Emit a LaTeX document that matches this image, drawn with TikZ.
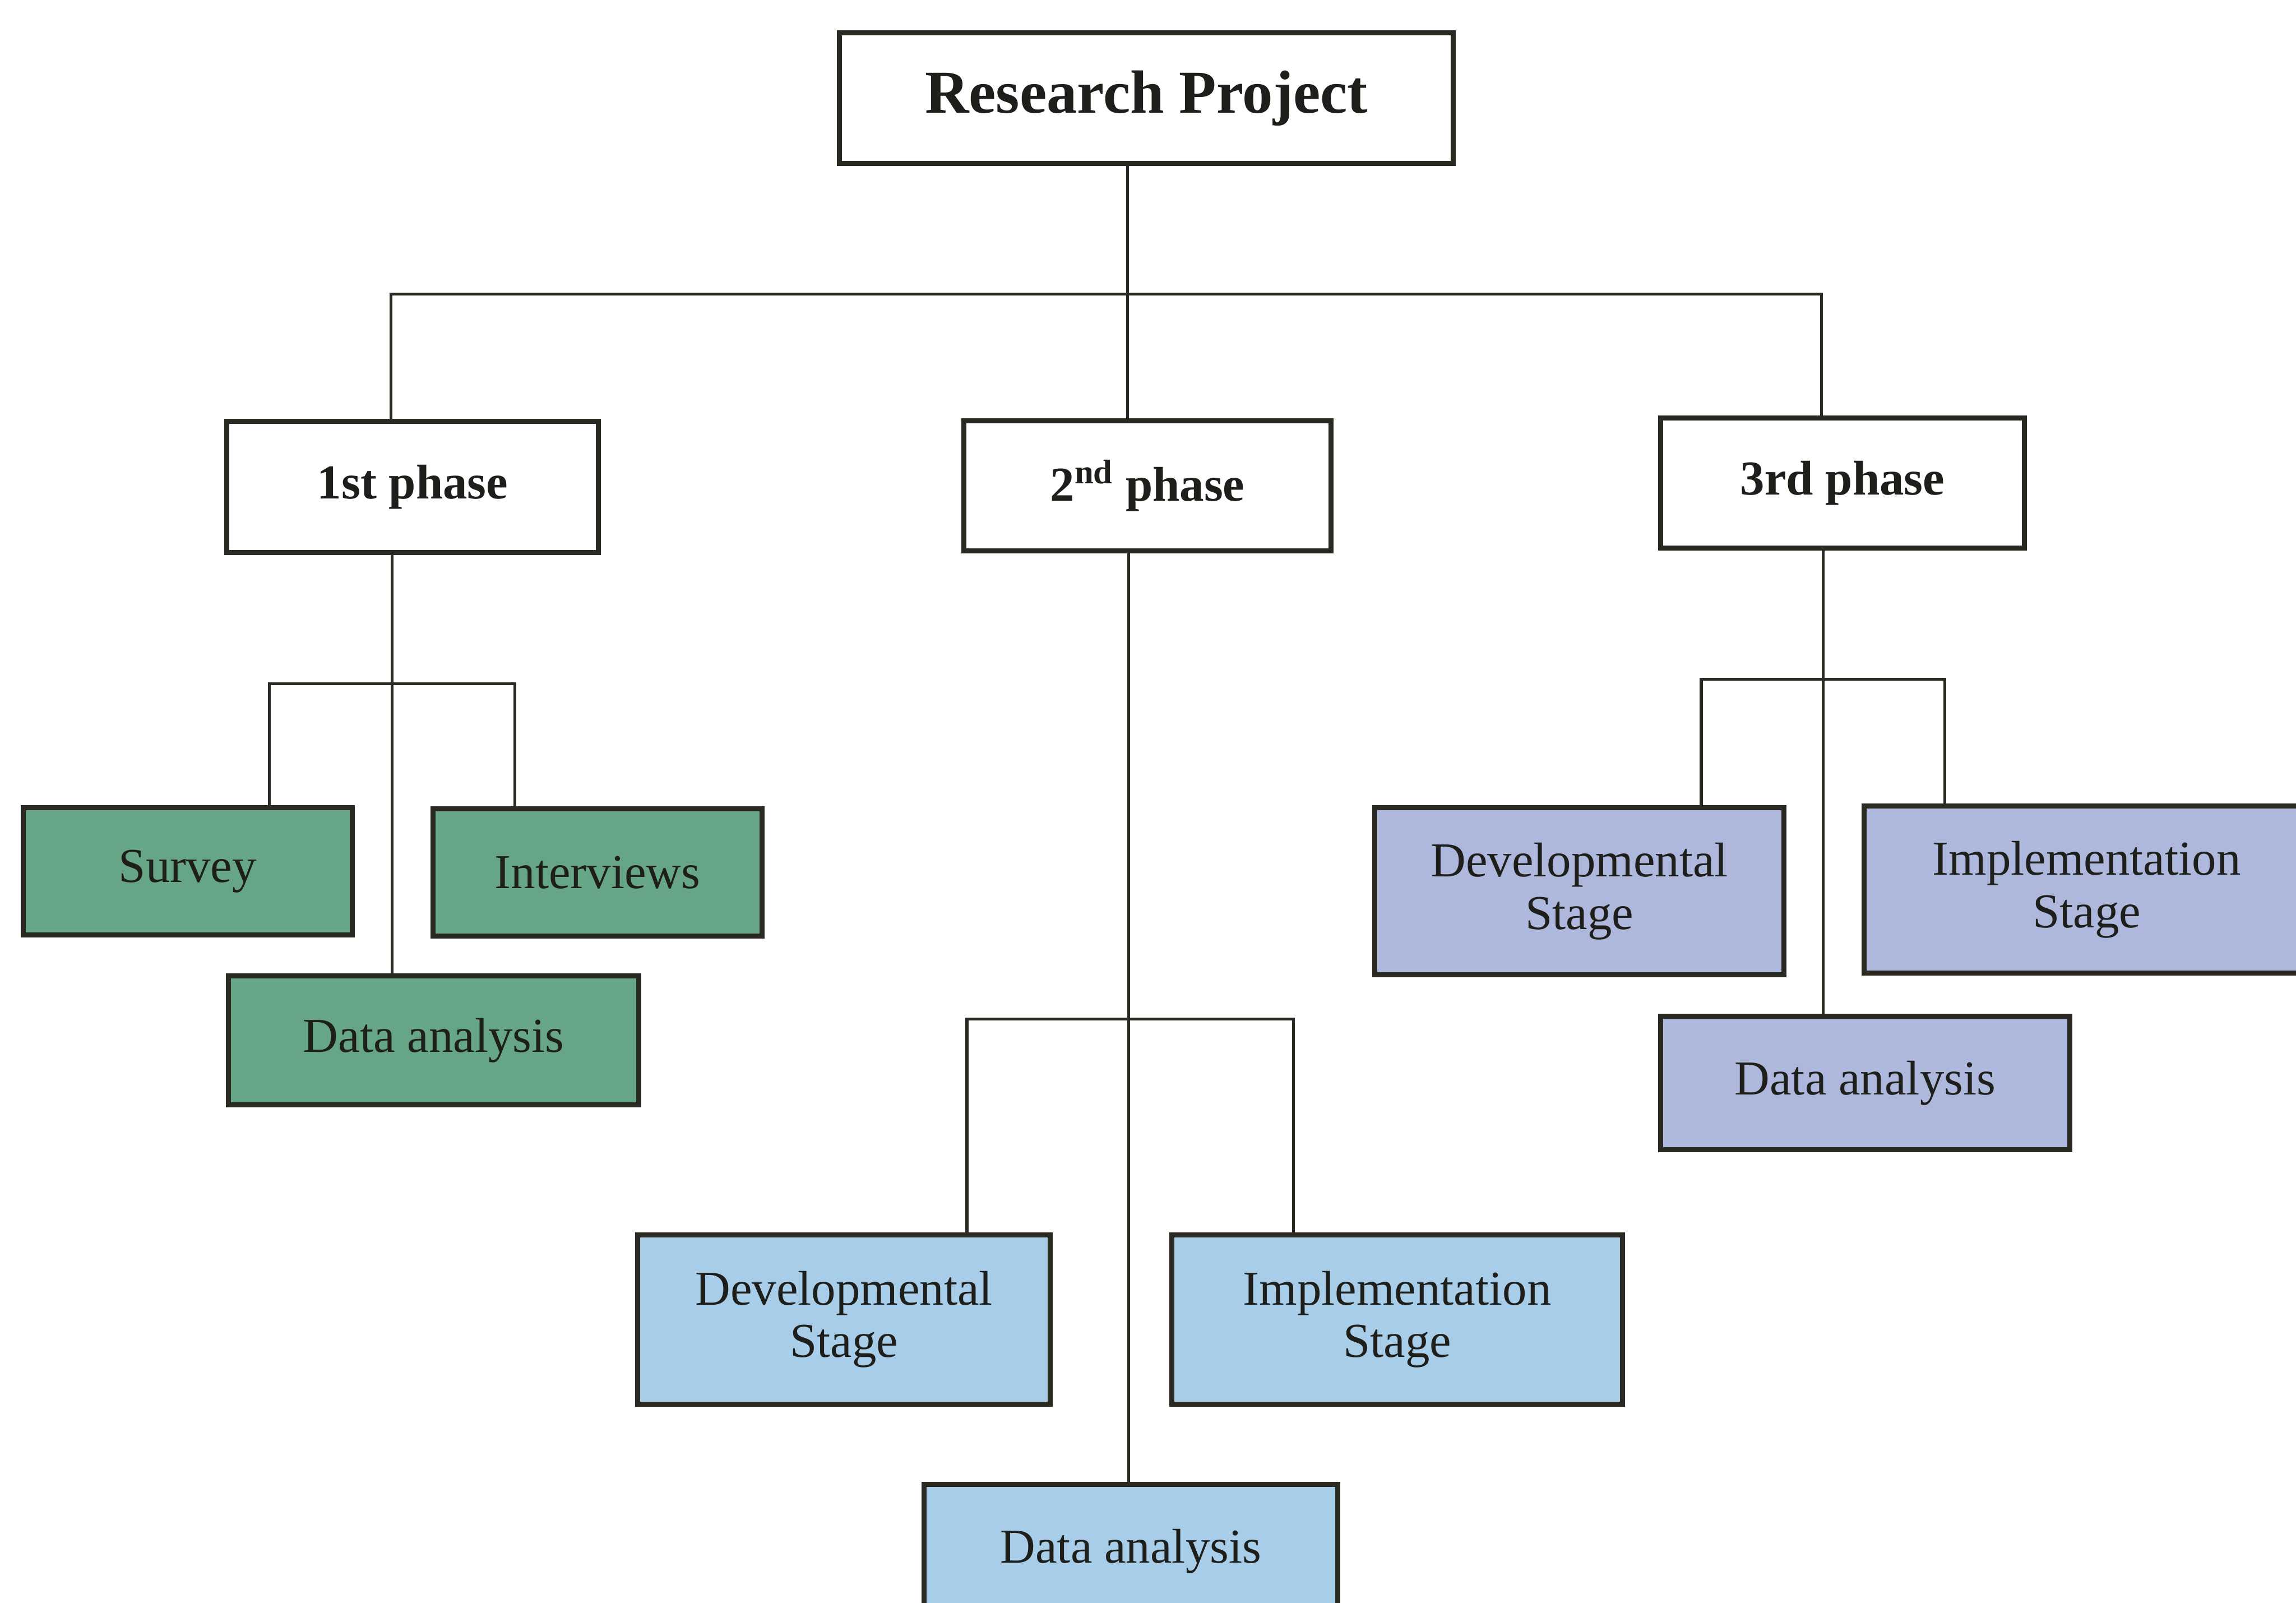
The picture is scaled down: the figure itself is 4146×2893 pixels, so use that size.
\documentclass[tikz,border=0pt]{standalone}
\usepackage{fontspec}
\setmainfont{Liberation Serif}
\usetikzlibrary{backgrounds}
\definecolor{ink}{HTML}{2A2922}
\definecolor{txt}{HTML}{1E1E1A}
\definecolor{greenfill}{HTML}{66A586}
\definecolor{bluefill}{HTML}{A8CDE8}
\definecolor{violetfill}{HTML}{AEB7DC}
\begin{document}
\begin{tikzpicture}[x=0.01cm,y=-0.01cm,
  box/.style={draw=ink, line width=2.6pt, rectangle, inner sep=0pt, align=center,
    text=txt, font=\fontsize{25}{27}\selectfont},
  titlebox/.style={box, fill=white, font=\fontsize{31.3}{34}\selectfont\bfseries},
  phasebox/.style={box, fill=white, font=\fontsize{25}{27}\selectfont\bfseries},
  greenbox/.style={box, fill=greenfill},
  bluebox/.style={box, fill=bluefill},
  violetbox/.style={box, fill=violetfill},
  wire/.style={draw=ink, line width=1.5pt}
]
\useasboundingbox (0,0) rectangle (4146,2893);
\clip (0,0) rectangle (4146,2893);

% top level
\node[titlebox, minimum width=11.08cm, minimum height=2.35cm] (rp) at (2070,177) {Research Project};

% phases
\node[phasebox, minimum width=6.70cm, minimum height=2.36cm] (p1) at (745,879) {1st phase};
\node[phasebox, minimum width=6.63cm, minimum height=2.35cm] (p2) at (2072,877) {2\textsuperscript{nd} phase};
\node[phasebox, minimum width=6.57cm, minimum height=2.35cm] (p3) at (3327,872) {3rd phase};

% first phase
\node[greenbox, minimum width=5.94cm, minimum height=2.30cm] (sv) at (339,1573) {Survey};
\node[greenbox, minimum width=5.94cm, minimum height=2.30cm] (iv) at (1079,1575) {Interviews};
\node[greenbox, minimum width=7.40cm, minimum height=2.33cm] (da1) at (783,1878) {Data analysis};

% second phase
\node[bluebox, minimum width=7.44cm, minimum height=3.05cm] (dv2) at (1524,2382) {Developmental\\Stage};
\node[bluebox, minimum width=8.14cm, minimum height=3.05cm] (im2) at (2523,2382) {Implementation\\Stage};
\node[bluebox, minimum width=7.46cm, minimum height=2.40cm] (da2) at (2042,2800) {Data analysis};

% third phase
\node[violetbox, minimum width=7.39cm, minimum height=3.02cm] (dv3) at (2852,1609) {Developmental\\Stage};
\node[violetbox, minimum width=8.03cm, minimum height=3.02cm] (im3) at (3768,1606) {Implementation\\Stage};
\node[violetbox, minimum width=7.38cm, minimum height=2.41cm] (da3) at (3368,1955) {Data analysis};

% junction points
\coordinate (busL) at (706,531);
\coordinate (busM) at (2036,531);
\coordinate (busR) at (3289,531);
\coordinate (j1) at (708,1234);
\coordinate (b1l) at (486,1234);
\coordinate (b1r) at (930,1234);
\coordinate (j2) at (2038,1840);
\coordinate (b2l) at (1746,1840);
\coordinate (b2r) at (2336,1840);
\coordinate (j3) at (3292,1226);
\coordinate (b3l) at (3072,1226);
\coordinate (b3r) at (3512,1226);

\begin{scope}[on background layer]
\fill[white] (0,0) rectangle (4146,2893);
% project to phases
\draw[wire] (rp.south -| busM) -- (p2.north -| busM);
\draw[wire] (p1.north -| busL) -- (busL) -- (busR) -- (p3.north -| busR);
% first phase branches
\draw[wire] (p1.south -| j1) -- (da1.north -| j1);
\draw[wire] (sv.north -| b1l) -- (b1l) -- (b1r) -- (iv.north -| b1r);
% second phase branches
\draw[wire] (p2.south -| j2) -- (da2.north -| j2);
\draw[wire] (dv2.north -| b2l) -- (b2l) -- (b2r) -- (im2.north -| b2r);
% third phase branches
\draw[wire] (p3.south -| j3) -- (da3.north -| j3);
\draw[wire] (dv3.north -| b3l) -- (b3l) -- (b3r) -- (im3.north -| b3r);
\end{scope}
\end{tikzpicture}
\end{document}
